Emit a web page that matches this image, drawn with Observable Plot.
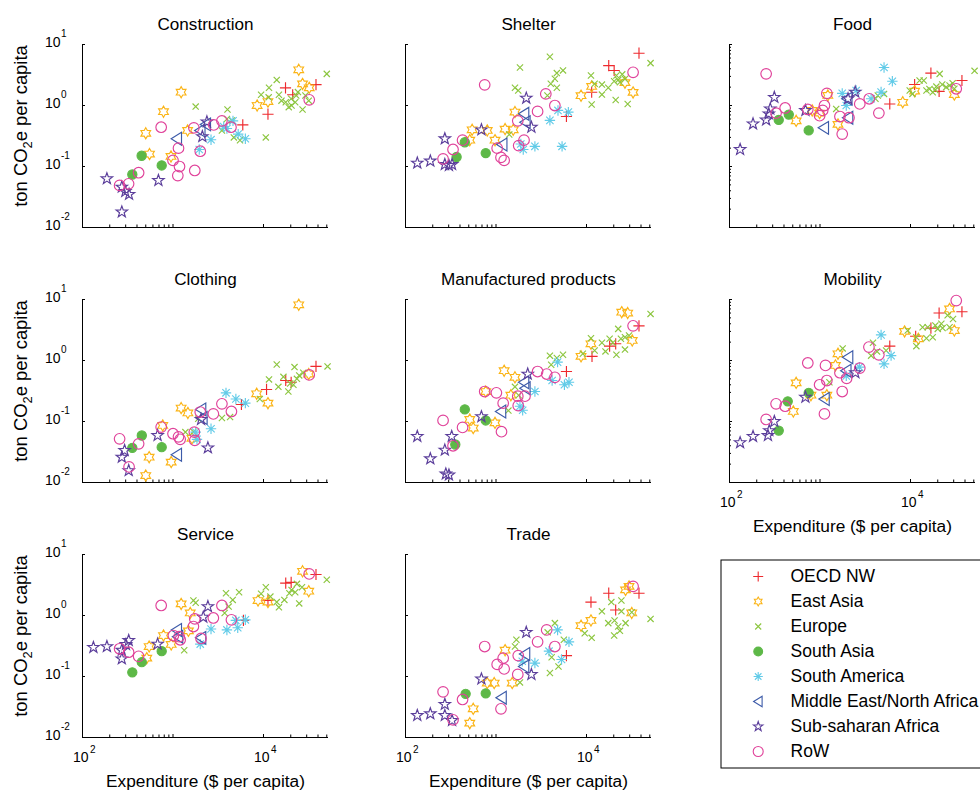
<!DOCTYPE html>
<html><head><meta charset="utf-8">
<script src="https://cdn.jsdelivr.net/npm/d3@7"></script>
<script src="https://cdn.jsdelivr.net/npm/@observablehq/plot@0.6"></script>
<style>
html,body{margin:0;padding:0;background:#fff;overflow:hidden}
#root{position:relative;width:980px;height:791px;overflow:hidden;font-family:"Liberation Sans",Arial,Helvetica,sans-serif}
.ylab{position:absolute;white-space:nowrap;font-size:18.4px;transform:translate(-50%,-50%) rotate(-90deg);color:#000}
.ylab sub{font-size:70%;vertical-align:baseline;position:relative;top:0.35em}
</style></head>
<body><div id="root"></div>
<script>
// ---------- regions ----------
const regionKeys = ["oecd","easia","europe","sasia","samer","mena","ssa","row"];
const regionNames = ["OECD NW","East Asia","Europe","South Asia","South America","Middle East/North Africa","Sub-saharan Africa","RoW"];
const regionColors = ["#ee2a2e","#fbb416","#8cc63f","#5db847","#62cbe8","#3d5ba9","#5b3e9b","#e0429a"];

// ---------- tick values ----------
const xMajorTicks = [100, 1000, 10000];
const xLabelTicks = [100, 10000];
const xMinorTicks = [200,300,400,500,600,700,800,900,20000,30000,40000,50000];
const yMajorTicks = [0.01, 0.1, 1, 10];
const yMinorTicks = [0.02,0.03,0.04,0.05,0.06,0.07,0.08,0.09,0.2,0.3,0.4,0.5,0.6,0.7,0.8,0.9,2,3,4,5,6,7,8,9];

// ---------- data: [region, expenditure $/cap, tCO2e/cap] ----------
const construction = [
["oecd",17500,1.95],["oecd",38000,2.2],["oecd",11200,0.72],["oecd",5900,0.48],["oecd",21000,1.5],
["easia",24500,3.85],["easia",1230,1.65],["easia",785,0.79],["easia",500,0.35],["easia",550,0.16],["easia",950,0.146],["easia",1450,0.39],["easia",8500,1.0],["easia",11200,1.16],["easia",27000,2.26],["easia",32000,1.95],
["europe",50000,3.3],["europe",14000,2.63],["europe",11500,1.95],["europe",9400,1.5],["europe",14800,1.5],["europe",1780,0.96],["europe",4000,0.86],["europe",10600,0.30],["europe",17600,1.13],["europe",20200,1.29],["europe",23000,1.46],["europe",24000,1.66],["europe",20400,1.0],["europe",27000,0.86],["europe",31600,1.2],["europe",19000,0.94],["europe",4470,0.57],["europe",4700,0.30],["europe",5500,0.27],["europe",3470,0.39],["europe",29000,1.46],["europe",15800,1.2],["europe",22400,1.13],["europe",11400,1.36],["europe",3940,0.60],
["sasia",450,0.15],["sasia",750,0.104],["sasia",355,0.074],
["samer",4600,0.56],["samer",5250,0.34],["samer",6300,0.285],["samer",2630,0.275],["samer",1950,0.19],["samer",3940,0.42],["samer",3630,0.45],
["mena",1100,0.285],["mena",2000,0.39],["mena",2300,0.49],
["ssa",186,0.063],["ssa",272,0.046],["ssa",297,0.039],["ssa",327,0.035],["ssa",272,0.018],["ssa",690,0.059],["ssa",2370,0.54],["ssa",2110,0.31],
["row",740,0.44],["row",257,0.049],["row",323,0.052],["row",417,0.079],["row",1150,0.20],["row",1000,0.126],["row",1180,0.10],["row",1130,0.071],["row",1740,0.086],["row",1700,0.43],["row",2820,0.48],["row",3470,0.56],["row",4370,0.44],["row",2000,0.178],["row",32000,1.24]
];
const shelter = [
["oecd",38000,7.2],["oecd",17600,4.5],["oecd",20200,3.75],["oecd",11400,1.65],["oecd",6000,0.66],
["easia",11400,2.05],["easia",8700,1.45],["easia",32700,1.64],["easia",26600,2.37],["easia",1620,0.78],["easia",1260,0.41],["easia",1550,0.40],["easia",800,0.39],["easia",545,0.40],["easia",513,0.27],["easia",975,0.27],
["europe",3940,6.3],["europe",1840,4.2],["europe",5500,3.76],["europe",4700,3.4],["europe",4470,2.75],["europe",4030,2.27],["europe",4700,1.95],["europe",1620,1.95],["europe",1760,1.76],["europe",11200,3.1],["europe",12300,2.27],["europe",14800,2.2],["europe",17400,1.95],["europe",14800,1.51],["europe",11400,1.04],["europe",21000,1.23],["europe",28500,1.06],["europe",51000,4.95],["europe",20200,2.5],["europe",22400,2.63],["europe",24800,3.24],["europe",26600,2.72],["europe",21400,3.1],["europe",23400,2.4],["europe",3700,1.46],["europe",1400,0.335],
["sasia",452,0.25],["sasia",367,0.143],["sasia",770,0.166],
["samer",6300,0.78],["samer",4840,0.83],["samer",3940,0.57],["samer",1880,0.234],["samer",2000,0.19],["samer",2690,0.214],["samer",5370,0.214],
["mena",2040,0.73],["mena",2110,0.53],["mena",1170,0.23],
["ssa",135,0.114],["ssa",188,0.123],["ssa",272,0.285],["ssa",272,0.108],["ssa",302,0.104],["ssa",327,0.108],["ssa",690,0.40],["ssa",2160,1.32],["ssa",2460,0.44],
["row",750,2.18],["row",260,0.133],["row",335,0.19],["row",427,0.27],["row",3550,1.55],["row",4470,1.0],["row",2880,0.80],["row",1740,0.56],["row",2040,0.27],["row",1780,0.22],["row",1030,0.20],["row",1135,0.141],["row",1230,0.126],["row",32700,3.5]
];
const food = [
["oecd",16800,3.4],["oecd",37000,2.57],["oecd",5900,1.06],["oecd",11100,2.21],["oecd",20700,1.7],
["easia",1220,1.46],["easia",545,0.56],["easia",1580,0.49],["easia",8200,1.13],["easia",11100,1.72],["easia",30500,1.51],["easia",990,0.75],["easia",820,0.83],
["europe",51000,3.7],["europe",21000,3.3],["europe",12600,2.57],["europe",14000,2.57],["europe",9800,1.76],["europe",10500,1.55],["europe",15000,1.76],["europe",16200,1.86],["europe",19300,2.04],["europe",22400,2.21],["europe",24800,2.0],["europe",27000,2.13],["europe",30500,1.88],["europe",29200,2.32],["europe",18800,1.8],["europe",17600,1.65],["europe",5100,1.55],["europe",4350,1.46],["europe",4100,1.29],["europe",1510,0.88],
["sasia",350,0.58],["sasia",452,0.71],["sasia",750,0.39],
["samer",5100,4.2],["samer",6300,2.5],["samer",1760,1.58],["samer",1950,1.0],["samer",3670,1.29],["samer",4730,1.66],["samer",2510,1.76],
["mena",1100,0.43],["mena",2040,0.63],["mena",2000,1.29],
["ssa",131,0.19],["ssa",182,0.50],["ssa",254,0.58],["ssa",272,0.73],["ssa",282,0.88],["ssa",313,1.36],["ssa",690,0.83],["ssa",2040,1.29],["ssa",2450,1.66],
["row",254,3.3],["row",327,0.75],["row",412,0.91],["row",733,0.86],["row",990,0.68],["row",1120,1.0],["row",1190,1.58],["row",1660,0.66],["row",1760,0.34],["row",2090,0.63],["row",2750,1.06],["row",3500,1.29],["row",4470,0.75],["row",32000,1.88],["row",1070,0.83]
];
const clothing = [
["oecd",38000,0.80],["oecd",17600,0.47],["oecd",10800,0.335],["oecd",5700,0.19],["oecd",20200,0.44],
["easia",24500,8.2],["easia",8400,0.285],["easia",11200,0.20],["easia",1230,0.166],["easia",1460,0.138],["easia",770,0.086],["easia",545,0.026],["easia",955,0.0216],["easia",500,0.013],["easia",31600,0.60],["easia",1620,0.053],
["europe",14000,0.86],["europe",22000,0.78],["europe",11500,0.49],["europe",9100,0.234],["europe",14600,0.37],["europe",16600,0.54],["europe",18800,0.31],["europe",21400,0.40],["europe",23400,0.50],["europe",24800,0.57],["europe",27500,0.63],["europe",51000,0.80],["europe",3470,0.114],["europe",4270,0.118],["europe",1370,0.067],["europe",1680,0.068],["europe",1900,0.111],["europe",19700,0.42],
["sasia",452,0.059],["sasia",355,0.037],["sasia",750,0.038],
["samer",3850,0.295],["samer",4950,0.234],["samer",6300,0.20],["samer",2630,0.076],["samer",1780,0.067],["samer",1840,0.051],
["mena",2040,0.158],["mena",2110,0.114],["mena",1100,0.0285],
["ssa",272,0.026],["ssa",292,0.0335],["ssa",324,0.0157],["ssa",676,0.059],["ssa",2430,0.037],["ssa",2040,0.108],
["row",257,0.052],["row",417,0.043],["row",327,0.018],["row",740,0.081],["row",1000,0.063],["row",1150,0.056],["row",1200,0.051],["row",1720,0.067],["row",1740,0.049],["row",2000,0.143],["row",2790,0.133],["row",3470,0.195],["row",4420,0.146],["row",32000,0.58]
];
const manufactured = [
["oecd",38000,3.7],["oecd",21000,1.88],["oecd",11500,1.17],["oecd",6000,0.66],["oecd",18000,1.72],
["easia",24500,6.2],["easia",28500,6.0],["easia",11200,1.88],["easia",8700,1.17],["easia",32000,2.13],["easia",1230,0.68],["easia",1620,0.53],["easia",1460,0.27],["easia",770,0.31],["easia",513,0.108],["easia",560,0.078],["easia",975,0.095],
["europe",51000,5.8],["europe",22400,3.3],["europe",11200,2.32],["europe",14800,1.95],["europe",18000,2.27],["europe",19500,1.95],["europe",24000,2.27],["europe",26600,2.4],["europe",29500,2.57],["europe",26600,1.51],["europe",21400,1.24],["europe",16200,1.41],["europe",12300,1.46],["europe",9100,1.29],["europe",3940,1.2],["europe",4700,1.1],["europe",5500,1.24],["europe",4070,0.85],["europe",1620,0.37],["europe",1370,0.151],["europe",1780,0.27],
["sasia",452,0.158],["sasia",770,0.104],["sasia",355,0.042],
["samer",4790,0.94],["samer",5700,0.40],["samer",6400,0.44],["samer",2690,0.31],["samer",1840,0.178],["samer",1970,0.153],["samer",4170,0.47],
["mena",2040,0.44],["mena",2110,0.35],["mena",1135,0.146],
["ssa",135,0.057],["ssa",188,0.0245],["ssa",272,0.034],["ssa",324,0.057],["ssa",279,0.0138],["ssa",302,0.0133],["ssa",690,0.12],["ssa",2240,0.60],
["row",260,0.104],["row",427,0.080],["row",335,0.040],["row",750,0.31],["row",1010,0.295],["row",1200,0.20],["row",1740,0.26],["row",1760,0.182],["row",2090,0.26],["row",1150,0.068],["row",2880,0.66],["row",3630,0.60],["row",4470,0.53],["row",32700,3.7]
];
const mobility = [
["oecd",20700,6.0],["oecd",37000,6.3],["oecd",16800,3.4],["oecd",5900,1.72],["oecd",11400,2.5],
["easia",27000,7.0],["easia",30500,3.1],["easia",8600,3.0],["easia",12200,2.27],["easia",1580,1.29],["easia",1480,0.83],["easia",545,0.43],["easia",507,0.146],["easia",794,0.27],["easia",1190,0.27],
["europe",29500,4.8],["europe",25700,5.5],["europe",13600,3.5],["europe",15500,3.5],["europe",18800,3.76],["europe",21900,4.0],["europe",20000,3.3],["europe",22600,3.4],["europe",27000,3.5],["europe",17600,2.4],["europe",15000,2.32],["europe",11600,1.72],["europe",9300,3.1],["europe",11600,2.4],["europe",1780,1.58],["europe",3850,1.95],["europe",4270,1.40],["europe",3670,1.2],["europe",5370,1.46],["europe",1270,0.44],
["sasia",440,0.214],["sasia",750,0.295],["sasia",350,0.071],
["samer",4730,2.63],["samer",6100,1.2],["samer",5100,0.88],["samer",2720,0.78],["samer",1950,0.56],
["mena",2040,1.13],["mena",1950,0.68],["mena",1120,0.234],
["ssa",131,0.045],["ssa",182,0.057],["ssa",266,0.059],["ssa",275,0.071],["ssa",313,0.10],["ssa",690,0.25],["ssa",2460,0.63],
["row",32000,9.6],["row",733,0.91],["row",1150,0.83],["row",327,0.195],["row",412,0.178],["row",254,0.108],["row",990,0.40],["row",1190,0.47],["row",1660,0.63],["row",1760,0.31],["row",1120,0.133],["row",1970,0.51],["row",2750,0.75],["row",3470,1.66],["row",4470,1.24]
];
const service = [
["oecd",17600,3.4],["oecd",38000,4.7],["oecd",11200,1.76],["oecd",6000,0.83],["oecd",20200,3.5],
["easia",27000,5.3],["easia",31600,2.5],["easia",8700,1.76],["easia",11200,1.66],["easia",1230,1.55],["easia",1550,1.1],["easia",545,0.31],["easia",513,0.20],["easia",785,0.47],["easia",955,0.335],["easia",1480,0.56],
["europe",50000,3.85],["europe",10600,2.9],["europe",9400,2.27],["europe",11900,2.04],["europe",14000,1.66],["europe",14800,1.36],["europe",17000,1.8],["europe",19300,2.32],["europe",20400,2.63],["europe",22400,2.4],["europe",23400,3.3],["europe",26600,2.9],["europe",24800,1.58],["europe",3850,2.32],["europe",5370,2.4],["europe",4570,1.8],["europe",4120,1.40],["europe",3720,1.1],["europe",1680,1.76],["europe",1780,1.62],["europe",1330,0.27],
["sasia",750,0.26],["sasia",452,0.172],["sasia",355,0.117],
["samer",6300,0.85],["samer",5190,0.63],["samer",3940,0.58],["samer",2630,0.60],["samer",2000,0.34],["samer",4950,0.83],
["mena",1100,0.58],["mena",2040,0.43],["mena",1135,0.45],
["ssa",132,0.30],["ssa",186,0.31],["ssa",272,0.27],["ssa",302,0.335],["ssa",324,0.39],["ssa",272,0.195],["ssa",676,0.34],["ssa",2160,0.94],["ssa",2430,1.40],
["row",740,1.46],["row",257,0.285],["row",323,0.25],["row",417,0.214],["row",1010,0.47],["row",1170,0.45],["row",1200,0.40],["row",1740,0.88],["row",1680,0.66],["row",2040,0.42],["row",2790,0.91],["row",3470,1.46],["row",4420,0.85],["row",32000,4.8]
];
const trade = [
["oecd",17600,2.32],["oecd",38000,2.32],["oecd",11200,1.66],["oecd",21000,1.23],["oecd",6000,0.22],
["easia",27000,2.63],["easia",29500,3.0],["easia",31600,1.1],["easia",8700,0.68],["easia",11200,0.83],["easia",1260,0.27],["easia",955,0.078],["easia",800,0.078],["easia",1510,0.078],["easia",560,0.0295],["easia",513,0.0172],
["europe",51000,0.88],["europe",18800,1.66],["europe",24300,1.76],["europe",14800,1.17],["europe",24300,1.17],["europe",31600,1.13],["europe",17400,0.75],["europe",20400,0.83],["europe",22400,0.66],["europe",23400,0.56],["europe",27000,0.75],["europe",20200,0.47],["europe",11400,0.43],["europe",9550,0.51],["europe",4470,0.75],["europe",3720,0.53],["europe",5620,0.40],["europe",1680,0.40],["europe",1620,0.31],["europe",4120,0.207],["europe",4900,0.146],["europe",3940,0.114],["europe",1840,0.080],
["sasia",462,0.052],["sasia",770,0.053],
["samer",4790,0.58],["samer",6400,0.37],["samer",3850,0.26],["samer",5300,0.19],["samer",2690,0.166],["samer",1950,0.178],
["mena",2090,0.234],["mena",2040,0.146],["mena",1150,0.045],
["ssa",135,0.023],["ssa",188,0.0245],["ssa",272,0.023],["ssa",272,0.035],["ssa",327,0.019],["ssa",690,0.091],["ssa",2160,0.53],["ssa",2460,0.108],
["row",260,0.056],["row",427,0.042],["row",335,0.0195],["row",750,0.31],["row",1030,0.158],["row",1200,0.20],["row",1230,0.133],["row",1760,0.22],["row",1740,0.108],["row",2880,0.37],["row",3630,0.58],["row",4470,0.31],["row",1135,0.0295],["row",32700,3.0]
];

// ---------- marker shapes ----------
function sym(fn){ return {draw(ctx, size){ fn(ctx, Math.sqrt(size / Math.PI)); }}; }
const symPlus = sym((c,r)=>{ c.moveTo(-r,0); c.lineTo(r,0); c.moveTo(0,-r); c.lineTo(0,r); });
const symX = sym((c,r)=>{ c.moveTo(-r,-r); c.lineTo(r,r); c.moveTo(-r,r); c.lineTo(r,-r); });
const symCircle = sym((c,r)=>{ c.moveTo(r,0); c.arc(0,0,r,0,2*Math.PI); c.closePath(); });
const symAsterisk = sym((c,r)=>{ const d=r*Math.SQRT1_2; c.moveTo(-r,0); c.lineTo(r,0); c.moveTo(0,-r); c.lineTo(0,r); c.moveTo(-d,-d); c.lineTo(d,d); c.moveTo(-d,d); c.lineTo(d,-d); });
const symTriLeft = sym((c,r)=>{ c.moveTo(-r,0); c.lineTo(r*0.85,-r*1.15); c.lineTo(r*0.85,r*1.15); c.closePath(); });
function starPath(c, r, n, ratio){ for(let i=0;i<2*n;i++){ const a=-Math.PI/2+i*Math.PI/n; const rr=i%2? r*ratio : r; const x=rr*Math.cos(a), y=rr*Math.sin(a); if(i===0) c.moveTo(x,y); else c.lineTo(x,y);} c.closePath(); }
const symPentagram = sym((c,r)=> starPath(c, r, 5, 0.40));
const symHexagram = sym((c,r)=> starPath(c, r, 6, 0.577));

const regionSymbols = [symPlus, symHexagram, symX, symCircle, symAsterisk, symTriLeft, symPentagram, symCircle];
const regionR = [5.6, 5.6, 3.1, 4.6, 5.2, 5.6, 6.0, 5.3];
const regionFilled = [false,false,false,true,false,false,false,false];
const legendR = [5, 4.4, 3, 4.4, 4.6, 4.6, 5, 5];

// ---------- layout ----------
const W = 246, H = 183;
const mL = 78, mR = 22, mT = 44, mB = 56;
const colLeft = [82, 405, 729];
const rowTop = [44, 299, 554];
const font = "'Liberation Sans', Arial, Helvetica, sans-serif";
const root = document.getElementById("root");

const panels = [
  {title:"Construction", data:construction, col:0, row:0},
  {title:"Shelter", data:shelter, col:1, row:0},
  {title:"Food", data:food, col:2, row:0},
  {title:"Clothing", data:clothing, col:0, row:1},
  {title:"Manufactured products", data:manufactured, col:1, row:1},
  {title:"Mobility", data:mobility, col:2, row:1, xLabels:true},
  {title:"Service", data:service, col:0, row:2, xLabels:true},
  {title:"Trade", data:trade, col:1, row:2, xLabels:true}
];

function makePanel(p){
  const marks = [
    Plot.ruleX([100], {stroke:"#000", strokeWidth:1}),
    Plot.ruleY([0.01], {stroke:"#000", strokeWidth:1}),
    Plot.tickX(xMajorTicks, {x:d=>d, insetTop:H-3, stroke:"#000"}),
    Plot.tickX(xMinorTicks, {x:d=>d, insetTop:H-2.5, stroke:"#000"}),
    Plot.tickY(yMajorTicks, {y:d=>d, insetRight:W-3, stroke:"#000"})
  ];
  if (p.col === 2) marks.push(Plot.tickY(yMinorTicks, {y:d=>d, insetRight:W-2, stroke:"#000"}));
  regionKeys.forEach((k,i)=>{
    marks.push(Plot.dot(p.data.filter(d=>d[0]===k), {
      x:d=>d[1], y:d=>d[2], symbol:regionSymbols[i], r:regionR[i],
      stroke:regionColors[i], fill: regionFilled[i] ? regionColors[i] : "none", strokeWidth:1.15
    }));
  });
  marks.push(Plot.text([p.title], {frameAnchor:"top", dy:-20, lineAnchor:"middle", fontSize:17.1, fill:"#000"}));
  if (p.col === 0) {
    marks.push(Plot.text(yMajorTicks, {y:d=>d, text:()=>"10", frameAnchor:"left", textAnchor:"end", dx:-22, dy:-2, fontSize:14, fill:"#000"}));
    marks.push(Plot.text(yMajorTicks, {y:d=>d, text:d=>String(Math.round(Math.log10(d))), frameAnchor:"left", textAnchor:"start", dx:-21.5, dy:-10.5, fontSize:10, fill:"#000"}));
  }
  if (p.xLabels) {
    marks.push(Plot.text(xLabelTicks, {x:d=>d, text:()=>"10", frameAnchor:"bottom", textAnchor:"end", lineAnchor:"top", dx:6, dy:15, fontSize:14, fill:"#000"}));
    marks.push(Plot.text(xLabelTicks, {x:d=>d, text:d=>String(Math.round(Math.log10(d))), frameAnchor:"bottom", textAnchor:"start", lineAnchor:"top", dx:7.5, dy:8, fontSize:10, fill:"#000"}));
    marks.push(Plot.text(["Expenditure ($ per capita)"], {frameAnchor:"bottom", lineAnchor:"middle", dy:44, fontSize:17.3, fill:"#000"}));
  }
  const svg = Plot.plot({
    width: mL+W+mR, height: mT+H+mB,
    marginLeft:mL, marginRight:mR, marginTop:mT, marginBottom:mB,
    x:{type:"log", domain:[100, Math.pow(10,4.718)], axis:null},
    y:{type:"log", domain:[0.01, 10], axis:null},
    style:{fontFamily:font, background:"transparent", overflow:"visible"},
    marks
  });
  svg.style.position = "absolute";
  svg.style.left = (colLeft[p.col] - mL) + "px";
  svg.style.top = (rowTop[p.row] - mT) + "px";
  svg.style.maxWidth = "none";
  root.appendChild(svg);
  if (p.col === 0) {
    const lab = document.createElement("div");
    lab.className = "ylab";
    lab.innerHTML = "ton CO<sub>2</sub>e per capita";
    lab.style.left = "21px";
    lab.style.top = (rowTop[p.row] + 82) + "px";
    root.appendChild(lab);
  }
}
panels.forEach(makePanel);

// ---------- legend ----------
const legendMarks = [Plot.frame({stroke:"#000", strokeWidth:1})];
regionNames.forEach((name,i)=>{
  legendMarks.push(Plot.dot([name], {y:d=>d, frameAnchor:"left", dx:37.2, symbol:regionSymbols[i], r:legendR[i],
    stroke:regionColors[i], fill: regionFilled[i] ? regionColors[i] : "none", strokeWidth:1.1}));
});
legendMarks.push(Plot.text(regionNames, {y:d=>d, text:d=>d, frameAnchor:"left", dx:69.5, textAnchor:"start", fontSize:17.5, fill:"#000"}));
const legend = Plot.plot({
  width:280, height:209, marginTop:0.5, marginLeft:0.5, marginRight:0.5, marginBottom:0.5,
  y:{type:"point", domain:regionNames, range:[16.5, 193], padding:0, axis:null},
  style:{fontFamily:font, background:"transparent", overflow:"visible"},
  marks: legendMarks
});
legend.style.position = "absolute";
legend.style.left = "719.5px";
legend.style.top = "558.5px";
legend.style.maxWidth = "none";
root.appendChild(legend);
</script>
</body></html>
